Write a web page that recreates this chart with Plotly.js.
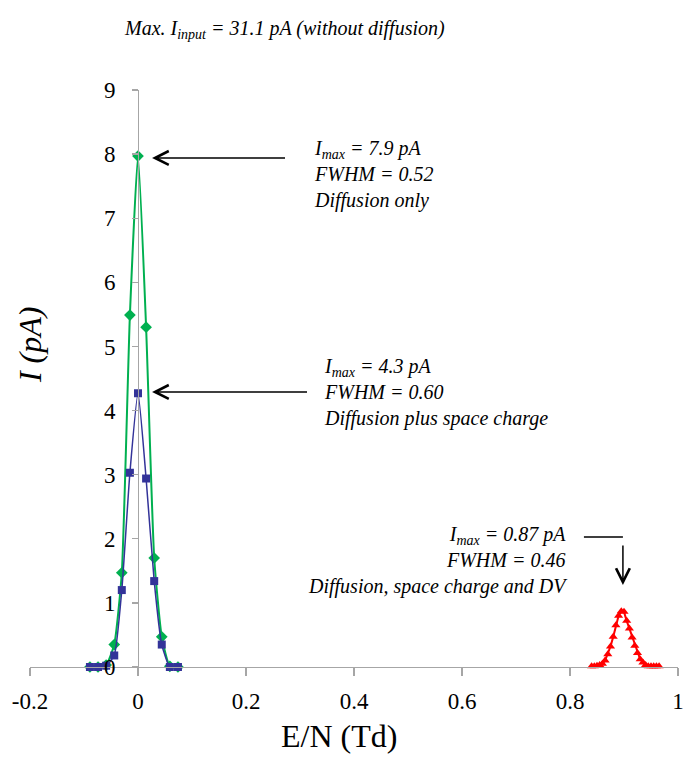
<!DOCTYPE html>
<html>
<head>
<meta charset="utf-8">
<script src="https://cdn.plot.ly/plotly-3.0.1.min.js"></script>
<style>
  html, body { margin: 0; padding: 0; background: #ffffff; }
  #chart { width: 684px; height: 760px; }
</style>
</head>
<body>
<div id="chart"></div>
<script>
// ---- data ----
const centralX = [-0.089, -0.074, -0.059, -0.044, -0.030, -0.015, 0, 0.015, 0.030, 0.044, 0.059, 0.074];
const diffusionOnly = [0, 0, 0.03, 0.35, 1.47, 5.49, 7.97, 5.30, 1.70, 0.47, 0.01, 0];
const diffusionSpaceCharge = [0, 0, 0.02, 0.18, 1.20, 3.03, 4.27, 2.94, 1.34, 0.35, 0, 0];

const dvX = [0.840, 0.845, 0.850, 0.855, 0.860, 0.865, 0.870, 0.875, 0.880, 0.885, 0.890, 0.895, 0.900,
             0.905, 0.910, 0.915, 0.920, 0.925, 0.930, 0.935, 0.940, 0.945, 0.950, 0.955, 0.960, 0.965];
const dvY = [0.01, 0.01, 0.02, 0.03, 0.05, 0.10, 0.20, 0.32, 0.47, 0.65, 0.80, 0.87, 0.86,
             0.72, 0.60, 0.46, 0.33, 0.22, 0.12, 0.07, 0.03, 0.01, 0.01, 0.01, 0.01, 0.01];

const xTicks = [-0.2, 0, 0.2, 0.4, 0.6, 0.8, 1];
const xTickText = ['-0.2', '0', '0.2', '0.4', '0.6', '0.8', '1'];
const yTicks = [0, 1, 2, 3, 4, 5, 6, 7, 8, 9];

const FONT = 'Liberation Serif, Times New Roman, serif';
const AXIS_COLOR = '#a6a6a6';

const traces = [
  {
    x: centralX, y: diffusionOnly, type: 'scatter', mode: 'lines+markers',
    line: {color: '#00b050', width: 2, shape: 'spline', smoothing: 0.5},
    marker: {symbol: 'diamond', size: 9, color: '#00b050'},
    cliponaxis: false, name: 'Diffusion only'
  },
  {
    x: centralX, y: diffusionSpaceCharge, type: 'scatter', mode: 'lines+markers',
    line: {color: '#333399', width: 1.5, shape: 'spline', smoothing: 0.5},
    marker: {symbol: 'square', size: 8, color: '#333399'},
    cliponaxis: false, name: 'Diffusion plus space charge'
  },
  {
    x: dvX, y: dvY, type: 'scatter', mode: 'lines+markers',
    line: {color: '#ff0000', width: 2},
    marker: {symbol: 'triangle-up', size: 8, color: '#ff0000'},
    cliponaxis: false, name: 'Diffusion, space charge and DV'
  }
];

const peakG = Math.max(...diffusionOnly);
const peakB = Math.max(...diffusionSpaceCharge);
const peakR = Math.max(...dvY);
const peakRX = dvX[dvY.indexOf(peakR)];

const txt = {family: FONT, size: 20, color: '#000000'};
const arrowStyle = {arrowhead: 5, arrowsize: 1.8, arrowwidth: 1.5, arrowcolor: '#000', standoff: 0, startstandoff: 0};

const annotations = [
  // top title
  {xref: 'paper', yref: 'paper', x: 0.3935, y: 1.104, xanchor: 'center', yanchor: 'middle',
   text: '<i>Max. I<sub>input</sub> = 31.1 pA (without diffusion)</i>', showarrow: false, font: txt},
  // y axis title
  {xref: 'paper', yref: 'paper', x: 0.0, y: 0.558, xanchor: 'center', yanchor: 'middle',
   text: '<i>I (pA)</i>', textangle: -90, showarrow: false, font: {family: FONT, size: 32, color: '#000'}},
  // x axis title
  {xref: 'paper', yref: 'paper', x: 0.477, y: -0.1196, xanchor: 'center', yanchor: 'middle',
   text: 'E/N (Td)', showarrow: false, font: {family: FONT, size: 32, color: '#000'}},
  // text block 1
  {xref: 'paper', yref: 'paper', x: 0.4352, y: 0.8527, xanchor: 'left', yanchor: 'middle', align: 'left',
   text: '<i>I<sub>max</sub> = 7.9 pA<br>FWHM = 0.52<br>Diffusion only</i>', showarrow: false, font: txt},
  // text block 2
  {xref: 'paper', yref: 'paper', x: 0.4506, y: 0.4766, xanchor: 'left', yanchor: 'middle', align: 'left',
   text: '<i>I<sub>max</sub> = 4.3 pA<br>FWHM = 0.60<br>Diffusion plus space charge</i>', showarrow: false, font: txt},
  // text block 3
  {xref: 'paper', yref: 'paper', x: 0.8333, y: 0.184, xanchor: 'right', yanchor: 'middle', align: 'right',
   text: '<i>I<sub>max</sub> = 0.87 pA<br>FWHM = 0.46<br>Diffusion, space charge and DV</i>', showarrow: false, font: txt},
  // arrow 1 -> green peak
  Object.assign({x: 0.026, y: peakG - 0.03, xref: 'x', yref: 'y', text: ' ', showarrow: true,
   ax: 136, ay: 0, axref: 'pixel', ayref: 'pixel'}, arrowStyle),
  // arrow 2 -> blue peak
  Object.assign({x: 0.026, y: peakB + 0.02, xref: 'x', yref: 'y', text: ' ', showarrow: true,
   ax: 158, ay: 0, axref: 'pixel', ayref: 'pixel'}, arrowStyle),
  // arrow 3 (elbow) vertical part -> red peak
  Object.assign({x: peakRX + 0.003, y: peakR + 0.41, xref: 'x', yref: 'y', text: ' ', showarrow: true,
   ax: 0, ay: -48, axref: 'pixel', ayref: 'pixel'}, arrowStyle),
  // arrow 3 horizontal part
  {x: peakRX + 0.003, y: peakR + 0.41 + 48 / 64.1, xref: 'x', yref: 'y', text: ' ', showarrow: true,
   ax: -42, ay: 0, axref: 'pixel', ayref: 'pixel',
   arrowhead: 0, arrowwidth: 1.5, arrowcolor: '#000', standoff: 0, startstandoff: 0}
];

const layout = {
  width: 684, height: 760,
  margin: {l: 30, r: 6, t: 90, b: 93, pad: 0},
  paper_bgcolor: '#ffffff', plot_bgcolor: '#ffffff',
  showlegend: false,
  font: {family: FONT, color: '#000000'},
  xaxis: {
    range: [-0.2, 1], tickvals: xTicks, ticktext: xTickText,
    showgrid: false, zeroline: false, showline: true,
    linecolor: AXIS_COLOR, linewidth: 1.3, ticks: 'outside', ticklen: 8,
    tickcolor: AXIS_COLOR, tickwidth: 1.3, ticklabelstandoff: 5,
    tickfont: {family: FONT, size: 23, color: '#000'}, anchor: 'y'
  },
  yaxis: {
    range: [0, 9], tickvals: yTicks,
    showgrid: false, zeroline: false, showline: true,
    linecolor: AXIS_COLOR, linewidth: 1.3, ticks: 'outside', ticklen: 6,
    tickcolor: AXIS_COLOR, tickwidth: 1.3, ticklabelstandoff: 12,
    tickfont: {family: FONT, size: 23, color: '#000'},
    anchor: 'free', position: 0.2 / 1.2
  },
  annotations: annotations
};

Plotly.newPlot('chart', traces, layout, {displayModeBar: false, staticPlot: true});
</script>
</body>
</html>
